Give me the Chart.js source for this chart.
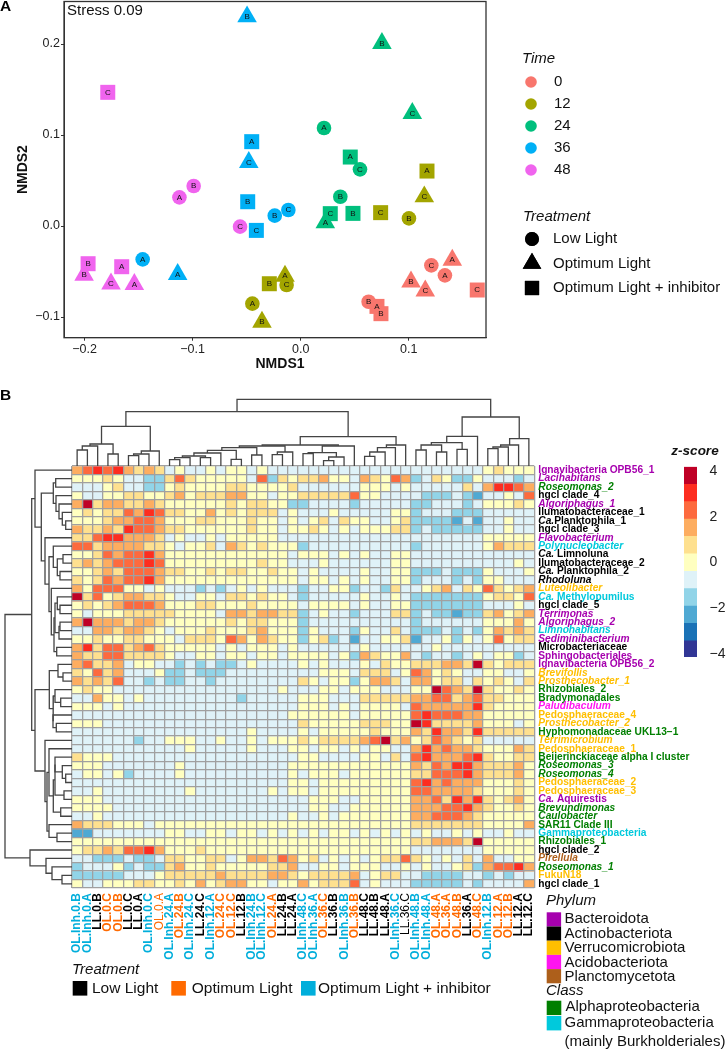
<!DOCTYPE html>
<html>
<head>
<meta charset="utf-8">
<title>NMDS and heatmap</title>
<script src="https://cdn.jsdelivr.net/npm/chart.js@4/dist/chart.umd.min.js"></script>
<style>
  html, body { margin: 0; padding: 0; background: #fff; }
  #page { position: relative; width: 728px; height: 1050px; overflow: hidden; }
  canvas { position: absolute; }
</style>
</head>
<body>
<div id="page">
  <canvas id="nmds" style="left:0;top:-20px"></canvas>
  <canvas id="heat" style="left:0;top:390px"></canvas>
  <canvas id="colTree" style="left:72px;top:395px"></canvas>
  <canvas id="rowTree" style="left:0;top:466px"></canvas>
  <canvas id="zbar" style="left:660px;top:440px"></canvas>
</div>
<script>
// === PANEL A DATA ===
const nmds1 = [0.1209,0.1335,0.0629,0.1403,0.1021,0.1153,0.0706,0.0743,0.1634,
  -0.0447,0.1002,-0.0130,-0.0145,-0.0358,0.1144,0.1169,-0.0290,0.0740,
  0.0216,0.0367,0.0549,0.0228,0.0752,0.1033,0.0459,0.0484,0.0274,
  -0.1462,-0.0240,-0.0114,-0.1138,-0.0496,-0.0480,-0.0453,-0.0490,-0.0410,
  -0.1122,-0.0990,-0.0561,-0.1539,-0.2004,-0.1755,-0.1656,-0.1967,-0.1785];
const nmds2 = [-0.0432,-0.0542,-0.0832,-0.0374,-0.0612,-0.0711,-0.0883,-0.0963,-0.0703,
  -0.0853,0.0084,-0.0648,-0.0549,-0.1055,0.0322,0.0604,-0.0634,0.0147,
  0.1077,0.0322,0.0623,0.0037,0.2007,0.1238,0.0758,0.0139,0.0136,
  -0.0366,0.0114,0.0176,-0.0531,0.2300,0.0700,0.0927,0.0267,-0.0048,
  0.0315,0.0440,-0.0007,-0.0641,-0.0538,-0.0634,-0.0447,-0.0414,0.1469];
const sampleRep = ['C','A','B','A','B','C','A','B','C',
  'A','B','C','A','B','C','A','B','C',
  'A','B','C','A','B','C','A','B','C',
  'A','B','C','A','B','C','A','B','C',
  'A','B','C','A','B','C','A','B','C'];
const timeLevels = ['0','12','24','36','48'];
const treatLevels = ['Low Light','Optimum Light','Optimum Light + inhibitor'];
const xTicksA = [-0.2,-0.1,0,0.1];
const yTicksA = [-0.1,0,0.1,0.2];

// === PANEL B DATA ===
const colNames = ['OL.Inh.0.B','OL.Inh.0.A','LL.0.B','OL.0.C','OL.0.B','LL.0.C','LL.0.A','OL.Inh.0.C','OL.0.A',
  'OL.Inh.24.A','OL.24.B','OL.Inh.24.C','LL.24.C','OL.Inh.12.A','OL.24.C','OL.12.C','LL.12.B','OL.Inh.24.B',
  'OL.Inh.12.C','OL.24.A','LL.24.B','LL.24.A','OL.Inh.48.C','OL.Inh.36.A','OL.36.C','LL.36.B','OL.Inh.36.B',
  'OL.36.B','LL.48.C','LL.48.B','LL.48.A','OL.Inh.36.C','LL.36.C','OL.Inh.48.B','OL.Inh.48.A','OL.48.A',
  'OL.36.A','OL.48.B','LL.36.A','OL.48.C','OL.Inh.12.B','OL.12.A','OL.12.B','LL.12.A','LL.12.C'];
const rowNames = ['Ignavibacteria OPB56_1','Lacihabitans','Roseomonas_2','hgcl clade_4','Algoriphagus_1',
  'Ilumatobacteraceae_1','Ca.Planktophila_1','hgcl clade_3','Flavobacterium','Polynucleobacter',
  'Ca. Limnoluna','Ilumatobacteraceae_2','Ca. Planktophila_2','Rhodoluna','Luteolibacter',
  'Ca. Methylopumilus','hgcl clade_5','Terrimonas','Algoriphagus_2','Limnohabitans',
  'Sediminibacterium','Microbacteriaceae','Sphingobacteriales','Ignavibacteria OPB56_2','Brevifollis',
  'Prosthecobacter_1','Rhizobiales_2','Bradymonadales','Paludibaculum','Pedosphaeraceae_4',
  'Prosthecobacter_2','Hyphomonadaceae UKL13\u22121','Terrimicrobium','Pedosphaeraceae_1','Beijerinckiaceae alpha I cluster',
  'Roseomonas_3','Roseomonas_4','Pedosphaeraceae_2','Pedosphaeraceae_3','Ca. Aquirestis',
  'Brevundimonas','Caulobacter','SAR11 Clade III','Gammaproteobacteria','Rhizobiales_1',
  'hgcl clade_2','Pirellula','Roseomonas_1','FukuN18','hgcl clade_1'];
const rowPhylum = ['Bac','Bac','Alp','Act','Bac','Act','Act','Act','Bac','Gam',
  'Act','Act','Act','Act','Ver','Gam','Act','Bac','Bac','Gam',
  'Bac','Act','Bac','Bac','Ver','Ver','Alp','Alp','Aci','Ver',
  'Ver','Alp','Ver','Ver','Alp','Alp','Alp','Ver','Ver','Bac',
  'Alp','Alp','Alp','Gam','Alp','Act','Pla','Alp','Ver','Act'];
const italicRows = ['Lacihabitans','Roseomonas_2','Algoriphagus_1','Flavobacterium','Polynucleobacter','Rhodoluna',
  'Luteolibacter','Terrimonas','Algoriphagus_2','Limnohabitans','Sediminibacterium','Brevifollis','Prosthecobacter_1',
  'Paludibaculum','Prosthecobacter_2','Terrimicrobium','Roseomonas_3','Roseomonas_4','Brevundimonas','Caulobacter',
  'Pirellula','Roseomonas_1'];

// z-score per cell as colour bar bin (one bin is about 0.76 z), rows top to bottom
const heatBins = [
  [2,3,4,3,4,2,1,2,1,-1,0,-1,-1,0,-1,0,0,-1,0,-1,-1,-1,-1,-1,-1,-1,-1,-1,-1,-1,-1,-1,-1,-1,-1,-1,-1,-1,-1,-1,0,1,0,0,0],
  [0,0,0,1,0,-1,-1,-2,-2,1,3,1,0,0,0,0,0,-1,3,-2,1,0,1,1,2,0,0,-1,2,1,0,3,2,-2,-1,1,0,-2,-2,0,-1,-1,-1,-2,-1],
  [-1,-1,-1,0,1,-1,-1,-2,-2,0,1,0,0,0,0,1,1,0,0,0,0,1,-1,-1,-1,-1,-1,-1,0,0,0,-1,0,-1,-1,-1,-1,-1,1,-1,2,4,4,3,2],
  [0,-1,-1,0,0,1,1,0,0,1,2,0,1,1,1,2,2,0,0,-1,0,0,1,1,1,1,1,3,0,0,-1,-1,-1,-1,-2,-2,-2,-1,-2,-3,-1,-1,0,-1,3],
  [2,5,1,2,2,1,1,2,1,0,0,0,0,0,0,1,0,1,1,0,0,-2,-2,-1,-1,-1,-1,-2,-1,-1,-1,-1,-1,-2,-2,-1,-1,-1,-2,-1,0,0,0,1,0],
  [0,1,0,1,1,3,2,4,3,1,1,0,0,2,0,1,0,1,1,1,-1,0,-1,-1,-1,0,-1,-1,-1,-1,-1,0,0,-2,-1,-1,-1,-2,-2,-2,-1,-1,-1,-1,-1],
  [0,0,0,1,2,2,3,3,2,0,0,0,1,1,0,0,0,1,0,0,-1,0,-1,0,1,-1,1,0,0,-1,-1,0,1,-2,-2,-2,-2,-3,-1,-3,-1,-1,0,-1,-1],
  [2,1,1,2,1,4,3,3,2,1,1,0,0,0,0,0,0,1,0,0,-1,0,0,1,0,-1,0,-1,0,0,0,1,1,-2,-1,-2,-2,-2,-2,-2,-1,-1,0,-1,-1],
  [1,1,3,4,4,2,2,2,1,-1,0,-1,-1,0,-1,0,0,0,0,0,-1,-1,-1,-1,-1,-1,-1,-1,-1,-1,-1,-1,-1,-1,-1,-1,-1,-1,-1,-1,0,0,0,0,0],
  [3,3,1,2,2,2,2,1,1,0,-1,0,0,1,-1,2,1,0,1,0,0,0,-2,-1,-1,-1,-1,-1,-1,-1,-1,-1,-1,-2,-1,-1,-1,-1,-1,-1,0,2,1,1,1],
  [0,0,1,3,2,3,3,4,2,0,0,0,0,0,0,0,0,0,0,0,0,-1,0,0,0,-1,0,-1,0,-1,-1,0,0,-1,-1,-1,-1,-1,-1,-1,-1,-1,-1,-1,-1],
  [1,2,1,2,3,3,3,4,3,0,0,0,0,0,0,0,0,0,1,0,0,-1,-1,-1,0,-1,-1,-1,-1,-1,-1,0,0,-1,-1,-1,-1,-1,-1,-1,-1,-1,-1,0,-1],
  [0,0,1,2,1,3,3,3,2,1,1,0,0,1,0,1,1,0,0,1,0,0,-1,0,-1,-1,-1,-1,0,-1,-1,0,0,-2,-2,-2,-1,-2,-2,-2,0,-1,-1,-1,0],
  [1,0,1,3,2,3,3,4,2,0,0,0,0,0,0,0,0,0,0,0,0,0,-1,0,0,-1,0,-1,0,-1,-1,0,0,-2,-1,-1,-1,-2,-1,-2,0,0,-1,-1,-1],
  [2,0,3,3,3,0,0,-1,0,-1,-1,-1,-2,-1,-2,-1,0,-1,0,-1,-1,-1,-2,-1,-1,0,0,-2,-1,-1,-2,1,-1,-1,0,1,2,-1,1,0,3,1,0,1,2],
  [5,1,3,0,1,2,2,1,1,0,-1,-1,0,0,-1,1,1,0,1,0,0,-1,-2,-1,-1,-1,-1,-1,0,-1,-1,0,-1,-2,-2,-2,-2,-2,-2,-2,0,1,1,0,3],
  [0,1,0,1,2,3,3,3,2,0,0,0,1,1,0,0,0,1,0,0,0,0,-1,0,0,0,0,-1,0,-1,-1,0,0,-2,-2,-2,-2,-2,-2,-2,-1,-1,-1,0,-1],
  [0,-1,0,0,0,1,1,1,1,1,0,0,0,0,-1,2,2,1,2,2,1,1,-2,-1,0,-1,-1,-2,-1,-1,-1,1,1,-2,-1,-2,-2,-3,-2,-2,1,2,0,1,2],
  [2,5,2,2,2,1,2,2,1,0,0,0,0,0,0,1,0,1,1,0,0,0,-2,-1,-1,-1,-1,-1,-1,-1,-1,-1,-1,-2,-1,-1,-1,-1,-1,-1,0,0,0,2,0],
  [-1,-1,2,2,1,2,2,1,0,-1,0,0,0,1,0,0,0,1,2,0,0,0,-2,0,-1,-1,-1,-2,0,-1,-1,1,-1,-2,-2,-2,-1,-2,-1,-2,0,2,1,2,1],
  [0,0,1,0,0,1,1,0,0,0,-1,1,1,1,0,3,2,0,2,1,0,0,-2,0,1,-2,-1,-3,-1,-1,0,0,1,-3,-1,-1,0,-2,0,-1,0,3,0,1,1],
  [2,4,1,3,3,1,2,3,1,0,0,0,0,0,-1,0,-1,0,0,0,-1,0,-1,-1,-1,-1,-1,-1,0,-1,-1,-1,-1,-1,-1,0,-1,-1,-1,-1,-1,-1,-1,-1,-1],
  [2,1,1,3,3,1,1,1,1,0,-1,-1,0,0,-1,0,0,-1,0,0,-1,0,0,0,0,-1,0,-2,2,1,0,0,2,-1,-2,-1,-1,-2,-1,0,-1,0,0,-2,-1],
  [2,3,1,1,2,-1,0,0,-1,-1,-2,-1,-2,-1,-2,-2,-1,0,-1,-1,-1,-1,0,-1,0,-1,-1,-1,0,-1,1,0,0,1,1,1,2,2,1,5,1,0,1,1,1],
  [1,0,3,1,2,-1,-1,-1,0,-2,-2,-1,-2,-2,-2,-1,-1,-1,-1,-1,-1,-1,-1,-1,0,0,0,-1,1,1,1,-1,0,3,2,0,1,0,-1,-1,0,0,-1,-1,0],
  [2,1,2,1,3,-1,-1,-2,-1,-2,-2,-1,-1,-2,-1,-1,-1,-1,-1,-1,-1,-1,1,0,-1,0,0,-2,0,2,2,1,-1,2,2,0,1,1,-1,1,0,1,0,-1,1],
  [0,1,0,0,-1,-1,-1,-1,-1,-1,-1,-1,-1,-1,-1,-1,-1,-1,-1,-1,0,-1,-1,-1,0,0,-1,0,0,0,-1,-1,-1,0,0,5,3,2,1,5,1,0,0,1,0],
  [-1,-1,2,0,0,-1,0,-1,-1,-1,-1,-1,-1,-1,-1,-1,-2,-1,-1,-1,-1,-1,0,0,0,-1,-1,-1,1,1,1,1,1,2,2,3,3,1,2,3,1,1,0,0,0],
  [0,0,0,-1,0,-1,-1,-1,-1,-1,-1,-1,-1,-1,-1,-1,-1,-1,-1,-1,-1,-1,0,0,0,-1,0,-1,0,0,0,0,-1,3,2,2,2,2,2,4,1,0,0,0,0],
  [-1,-1,-1,-1,-1,-1,-1,-1,-1,-1,-1,-1,-1,-1,-1,-1,-1,-1,-1,-1,-1,0,0,0,0,0,0,-1,0,0,0,0,0,3,4,3,3,3,2,2,0,0,0,0,0],
  [0,0,0,-1,-1,-1,-1,-1,-1,-1,-1,-1,-1,-1,-1,-1,-1,-1,-1,-1,-1,-1,1,0,0,0,0,0,1,1,1,0,0,5,4,1,1,1,1,2,0,0,0,-1,0],
  [-1,-1,-1,-1,-1,-1,-1,-1,-1,-1,-1,-1,-1,-1,-1,-1,-1,0,-1,-1,-1,-1,0,-1,0,0,0,0,0,1,0,0,0,2,1,4,2,2,1,4,1,1,1,1,1],
  [-1,-1,-1,-1,-1,-1,-2,-1,-1,0,0,0,-1,-1,0,-1,-1,0,-1,0,0,0,1,0,1,1,1,1,2,3,5,1,2,0,1,3,2,1,0,1,-1,-1,-1,-1,-1],
  [-1,-1,-1,-1,-1,-1,-1,-1,-1,-1,-1,0,-1,-1,-1,-1,-1,0,-1,-1,-1,0,0,-1,0,0,-1,0,-1,0,0,-1,-1,2,4,2,3,2,2,1,0,0,0,2,1],
  [1,0,0,0,-1,-1,-1,-1,-1,-1,-1,-1,-1,-1,-1,-1,-1,-1,-1,-1,-1,-1,0,0,-1,-1,-1,-1,0,0,-1,1,-1,3,4,2,2,2,3,4,1,0,0,1,1],
  [0,0,0,-1,-1,-1,-1,-1,-1,-1,0,-1,-1,-1,-1,-1,-1,-1,-1,-1,-1,0,0,0,0,0,0,0,0,0,0,0,0,2,1,3,2,4,4,2,1,1,1,2,0],
  [-1,0,0,-1,0,-2,-1,-1,-1,-1,0,-1,-1,-1,-1,-1,-1,-1,-1,-1,-1,0,-1,0,0,0,-1,0,0,0,0,0,0,1,1,3,3,3,4,2,1,1,1,2,0],
  [-1,-1,-1,-1,-1,-1,-1,-1,-1,-1,-1,-1,-1,-1,-1,-1,-1,-1,-1,-1,-1,0,0,-1,0,0,0,0,0,0,0,0,0,3,4,2,3,2,2,2,0,0,0,1,0],
  [-1,-1,0,-1,-1,-1,-1,-1,-1,-1,-1,0,-1,-1,-1,-1,-1,-1,-1,0,-1,0,0,-1,0,0,0,0,0,0,0,0,0,3,3,2,2,2,2,1,0,0,0,1,0],
  [0,0,0,-1,-1,-1,-1,-1,-1,-1,-1,-1,-1,-1,-1,-1,-1,-1,-1,-1,-1,-1,-1,0,0,0,-1,-1,0,0,0,0,0,2,2,3,1,4,2,4,1,0,1,2,0],
  [0,0,0,0,-1,-1,-1,-1,-1,-1,-1,-1,-1,-1,-1,-1,-1,-1,-1,-1,-1,-1,-1,0,0,-1,-1,0,0,0,0,0,0,2,2,2,3,3,4,2,1,0,0,1,0],
  [-1,-1,0,-1,-1,-1,-1,-1,-1,-1,-1,-1,-1,-1,-1,-1,-1,-1,-1,-1,-1,0,-1,-1,0,-1,0,0,0,0,0,0,0,2,2,3,3,3,2,1,0,0,0,0,0],
  [2,1,1,1,0,0,0,-1,0,0,0,0,0,0,0,0,0,0,0,0,0,0,0,0,0,0,0,0,0,0,0,0,0,1,1,1,1,1,1,1,0,0,0,0,2],
  [-3,-3,-1,-1,-1,-1,-1,-1,-1,0,0,-1,-1,0,0,-1,0,0,-1,0,-1,0,-1,0,-1,0,0,-1,0,-1,0,-1,0,-1,0,-1,-1,0,-1,0,-1,-1,0,-1,-1],
  [0,0,0,0,0,0,0,0,0,0,0,0,0,0,0,0,0,0,0,0,0,0,0,0,0,0,0,0,0,0,0,0,0,1,1,2,2,2,1,5,0,0,0,0,0],
  [0,1,1,2,1,3,3,4,2,0,0,0,1,0,0,0,0,0,0,0,0,0,0,0,0,0,0,0,0,0,0,0,0,-1,-1,-1,-1,-1,-1,-1,0,0,0,0,0],
  [-1,-1,-2,-2,-2,-1,-2,-2,-1,1,1,0,0,1,1,-1,0,2,2,1,3,2,0,1,-1,0,-1,0,-1,0,1,1,3,1,0,-1,0,-1,1,-1,2,-1,-1,0,0],
  [-2,-1,-1,-1,0,-2,-1,-2,-2,1,2,0,0,1,0,0,0,0,0,1,1,2,-1,-1,0,0,-1,0,0,0,-1,-1,0,-1,0,-1,-1,0,1,-2,2,3,3,4,2],
  [-2,-2,-2,-2,-2,-1,-1,-1,0,1,1,1,1,1,2,1,1,1,1,2,2,1,0,1,1,1,1,2,-1,0,1,1,-1,-1,-2,-2,-2,-2,-1,-1,-2,-1,-2,-1,-1],
  [0,-1,-1,0,0,0,1,1,0,0,1,0,2,0,1,2,2,0,0,-1,0,0,2,0,1,1,1,3,-1,0,-1,-1,-1,-2,-2,-2,-2,-2,-1,-2,-1,-1,-1,-1,2]
];
const zBins = [-5,-4,-3,-2,-1,0,1,2,3,4,5];
const zBinWidth = 0.76;
const zTicks = [-4,-2,0,2,4];

// dendrograms: [height, left, right], a plain number is a leaf (1 based)
const colTree = [66.7,
  [54.3,
    [39.7,
      [22, [20, [16, 1, 2], 3], [12, 4, 5]],
      [15, [12, [10.3, 6, 7], 8], 9]],
    [29.3,
      [21,
        [20,
          [18.3,
            [15.7, [13, [10, [8.3, [6.3, 10, 11], 12], [8.3, 13, 14]], 15], [6.7, 16, 17]],
            [11, 18, 19]],
          [14, [11.3, 20, 21], 22]],
        [20, [13.3, [12.3, 23, 24], [9, [5.3, 25, 26], 27]], 28]],
      [21, [18.3, [14, [9.7, 29, 30], 31], 32], 33]]],
  [49,
    [29.7, [23.3, [21, [16, 34, 35], [14, 36, 37]], [16.7, 38, 39]], 40],
    [27.3, [21, [19, [17.3, 41, 42], 43], 44], 45]]];
const rowTree = [67,
  [40.3,
    [37, 1,
      [30.7,
        [18.7, [16.3, 2, 3], [16, 4, [13, 5, [9.7, 6, [6.3, 7, 8]]]]],
        [27, 9,
          [23,
            [18.7, 10, [14.7, [9, 11, 12], [12, 13, 14]]],
            [20.7, 15, [18, [17, [14.7, 16, [12, 17, 18]], [13, [12, 19, 20], 21]], [15.3, 22, 23]]]]]]],
    [37,
      [22.7,
        [14, 24, [9, 25, 26]],
        [18.7, [17, 27, [11.3, 28, 29]], [19, 30, [15.7, 31, 32]]]],
      [27, 33,
        [25,
          [23, 34,
            [18.7,
              [17, [17, 35, [9.7, 36, [6.3, 37, 38]]], [8, 39, 40]],
              [11.3, 41, 42]]],
          [23, 43, [15, 44, 45]]]]]],
  [42, 46, [26, 47, [20, 48, [10, 49, 50]]]]];

// colours
const timeColors = ['#F8766D','#A3A500','#00BF7D','#00B0F6','#F064EE'];
const treatStyles = ['circle','triangle','rect'];
const treatRadius = [7.3,11.3,10.6];
const heatColors = {'-5':'#313695','-4':'#1a72b6','-3':'#4fa9d3','-2':'#91d4e8','-1':'#dff2f8',
  '0':'#ffffc0','1':'#fee08f','2':'#fdad60','3':'#fd6a3e','4':'#fd2d20','5':'#bf0026'};
const phylumColors = {Bac:'#A600AE',Act:'#000000',Ver:'#FFBF00',Aci:'#FF14F0',Pla:'#AD5F1B',Alp:'#007F00',Gam:'#00C9DC'};
const treatColColors = {inh:'#00AEDB',ol:'#FF6A00',ll:'#000000'};

Chart.defaults.font.family = '"Liberation Sans", Arial, sans-serif';
Chart.defaults.animation = false;
Chart.defaults.responsive = false;
Chart.defaults.plugins.legend.display = false;
Chart.defaults.plugins.tooltip.enabled = false;

const sansFont = '"Liberation Sans", Arial, sans-serif';
function putText(ctx, str, x, y, font, color, align) {
  ctx.save();
  ctx.font = font + ' ' + sansFont;
  ctx.fillStyle = color || '#000';
  ctx.textAlign = align || 'left';
  ctx.textBaseline = 'middle';
  ctx.fillText(str, x, y);
  ctx.restore();
}
function sizeCanvas(id, w, h) {
  const c = document.getElementById(id);
  c.width = w; c.height = h;
  c.style.width = w + 'px'; c.style.height = h + 'px';
  return c;
}
function minusLabel(v, digits) {
  return v.toFixed(digits).replace('-', '\u2212');
}

// === PANEL A ===
const nmdsDatasets = [];
timeLevels.forEach((t, ti) => {
  treatLevels.forEach((tr, si) => {
    // samples go time by time, and in each time low light, optimum, inhibitor, 3 each
    const start = ti * 9 + si * 3;
    const pts = [0, 1, 2].map(k => ({ x: nmds1[start + k], y: nmds2[start + k], rep: sampleRep[start + k] }));
    nmdsDatasets.push({
      label: t + ' ' + tr, data: pts, pointStyle: treatStyles[si], pointRadius: treatRadius[si],
      backgroundColor: timeColors[ti], borderWidth: 0, clip: false
    });
  });
});

// canvas sits 20px above the page so the axis labels have room, hence the offset
const nmdsTop = 20;
const nmdsDecor = {
  id: 'nmdsDecor',
  afterDatasetsDraw(chart) {
    const ctx = chart.ctx, a = chart.chartArea;
    // replicate letters on the points
    chart.data.datasets.forEach((ds, i) => {
      chart.getDatasetMeta(i).data.forEach((el, j) => {
        putText(ctx, ds.data[j].rep, el.x, el.y, '8px', '#111', 'center');
      });
    });
    ctx.save();
    ctx.strokeStyle = '#333';
    ctx.lineWidth = 1.3;
    ctx.strokeRect(a.left, a.top, a.right - a.left, a.bottom - a.top);
    ctx.restore();
    putText(ctx, 'Stress 0.09', 67, 11 + nmdsTop, '15px', '#111');
    putText(ctx, 'A', 0, 7 + nmdsTop, 'bold 15.5px', '#000');
    putText(ctx, 'NMDS1', 280, 364 + nmdsTop, 'bold 14px', '#111', 'center');
    // Time legend
    putText(ctx, 'Time', 522, 59 + nmdsTop, 'italic 15px', '#111');
    timeLevels.forEach((t, i) => {
      const y = 82 + i * 22 + nmdsTop;
      ctx.fillStyle = timeColors[i];
      ctx.beginPath(); ctx.arc(531, y, 5.8, 0, Math.PI * 2); ctx.fill();
      putText(ctx, t, 554, y, '15px', '#111');
    });
    // Treatment legend
    putText(ctx, 'Treatment', 523, 217 + nmdsTop, 'italic 15px', '#111');
    treatLevels.forEach((t, i) => {
      const y = 239 + i * 24.5 + nmdsTop;
      ctx.fillStyle = '#000';
      Chart.helpers.drawPoint(ctx, { pointStyle: treatStyles[i], radius: treatRadius[i] * 0.95, rotation: 0, borderWidth: 0 }, 532, y);
      ctx.fill();
      putText(ctx, t, 553, y, '15px', '#111');
    });
  }
};

new Chart(sizeCanvas('nmds', 728, 405), {
  type: 'scatter',
  data: { datasets: nmdsDatasets },
  options: {
    layout: { padding: { top: 1.5 + nmdsTop, right: 242, left: 0, bottom: 0 } },
    scales: {
      x: {
        min: -0.219, max: 0.1715,
        afterBuildTicks: s => { s.ticks = xTicksA.map(v => ({ value: v })); },
        afterFit: s => { s.height = 385 - 337.7; },
        grid: { drawOnChartArea: false, color: '#333', tickLength: 3 },
        border: { color: '#333' },
        ticks: { padding: 1, color: '#222', font: { size: 12.5 }, maxRotation: 0, callback: v => minusLabel(v, 1) }
      },
      y: {
        min: -0.1227, max: 0.2467,
        afterBuildTicks: s => { s.ticks = yTicksA.map(v => ({ value: v })); },
        afterFit: s => { s.width = 64; },
        grid: { drawOnChartArea: false, color: '#333', tickLength: 3 },
        border: { color: '#333' },
        ticks: { padding: 1, color: '#222', font: { size: 12.5 }, callback: v => minusLabel(v, 1) },
        title: { display: true, text: 'NMDS2', color: '#111', font: { size: 14, weight: 'bold' }, padding: { top: 15, bottom: 0 } }
      }
    }
  },
  plugins: [nmdsDecor]
});

// === PANEL B heatmap ===
function colColor(name) {
  if (name.startsWith('OL.Inh')) return treatColColors.inh;
  return name.startsWith('OL') ? treatColColors.ol : treatColColors.ll;
}
const heatDatasets = heatBins.map((row, r) => ({
  label: rowNames[r],
  data: row.map(() => [r, r + 1]),
  backgroundColor: row.map(b => heatColors[b]),
  borderWidth: 0, barPercentage: 1, categoryPercentage: 1, grouped: false
}));

const heatDecor = {
  id: 'heatDecor',
  afterDraw(chart) {
    const ctx = chart.ctx, yS = chart.scales.y, off = 390;
    // row labels, the Ca. prefix stays italic
    rowNames.forEach((name, r) => {
      const y = yS.getPixelForValue(r + 0.5), color = phylumColors[rowPhylum[r]];
      const style = italicRows.includes(name) ? 'italic bold 10.2px' : 'bold 10.2px';
      if (name.startsWith('Ca.')) {
        putText(ctx, 'Ca.', 538.3, y, 'italic bold 10.2px', color);
        ctx.font = 'italic bold 10.2px ' + sansFont;
        const w = ctx.measureText('Ca.').width;
        putText(ctx, name.slice(3), 538.3 + w, y, 'bold 10.2px', color);
      } else {
        putText(ctx, name, 538.3, y, style, color);
      }
    });
    putText(ctx, 'B', 0, 396 - off, 'bold 15.5px', '#000');
    // Treatment legend under the columns
    putText(ctx, 'Treatment', 72, 970 - off, 'italic 15px', '#111');
    [['Low Light', treatColColors.ll, 72.7, 92], ['Optimum Light', treatColColors.ol, 171.3, 191.7],
     ['Optimum Light + inhibitor', treatColColors.inh, 301, 318]].forEach(([t, c, sx, tx]) => {
      ctx.fillStyle = c;
      ctx.fillRect(sx, 981 - off, 14.6, 14.6);
      putText(ctx, t, tx, 988.5 - off, '15.5px', '#111');
    });
    // Phylum and class legend
    putText(ctx, 'Phylum', 546, 900.7 - off, 'italic 15px', '#111');
    [['Bacteroidota', 'Bac'], ['Actinobacteriota', 'Act'], ['Verrucomicrobiota', 'Ver'],
     ['Acidobacteriota', 'Aci'], ['Planctomycetota', 'Pla']].forEach(([t, k], i) => {
      ctx.fillStyle = phylumColors[k];
      ctx.fillRect(546.7, 912.3 + i * 14.2 - off, 14.4, 14.2);
      putText(ctx, t, 564.5, 919.3 + i * 14.4 - off, '15px', '#111');
    });
    putText(ctx, 'Class', 546, 991 - off, 'italic 15px', '#111');
    ctx.fillStyle = phylumColors.Alp; ctx.fillRect(546.7, 1000.7 - off, 14.6, 14.4);
    ctx.fillStyle = phylumColors.Gam; ctx.fillRect(546.7, 1016 - off, 14.6, 14.4);
    putText(ctx, 'Alphaproteobacteria', 565.5, 1006.7 - off, '15px', '#111');
    putText(ctx, 'Gammaproteobacteria', 564.5, 1022.7 - off, '15px', '#111');
    putText(ctx, '(mainly Burkholderiales)', 564.5, 1041.7 - off, '15px', '#111');
  }
};

new Chart(sizeCanvas('heat', 728, 660), {
  type: 'bar',
  data: { labels: colNames, datasets: heatDatasets },
  options: {
    layout: { padding: { top: 76, left: 72, right: 193.7, bottom: 0 } },
    scales: {
      x: {
        afterFit: s => { s.height = 660 - (888 - 390); },
        grid: { offset: true, color: '#a0a0a0', lineWidth: 1.3, z: 1, drawTicks: false },
        border: { display: false },
        ticks: {
          autoSkip: false, minRotation: 90, maxRotation: 90, padding: 5,
          color: ctx => colColor(colNames[ctx.index]),
          font: ctx => ({ size: 12, weight: ['OL.0.A', 'LL.36.C'].includes(colNames[ctx.index]) ? 'normal' : 'bold' })
        }
      },
      y: {
        min: 0, max: 50, reverse: true,
        afterFit: s => { s.width = 0; },
        grid: { color: '#a0a0a0', lineWidth: 1.3, z: 1, drawTicks: false },
        border: { display: false },
        ticks: { display: false, stepSize: 1, autoSkip: false, maxTicksLimit: 60 }
      }
    }
  },
  plugins: [heatDecor]
});

// dendrograms, one dataset per merge
function treeSegments(node, out) {
  if (typeof node === 'number') return { pos: node - 0.5, h: 0 };
  const l = treeSegments(node[1], out), r = treeSegments(node[2], out), h = node[0];
  out.push([[l.pos, l.h], [l.pos, h], [r.pos, h], [r.pos, r.h]]);
  return { pos: (l.pos + r.pos) / 2, h };
}
function treeDatasets(tree, horizontal) {
  const segs = [];
  treeSegments(tree, segs);
  return segs.map(s => ({
    data: s.map(p => horizontal ? { x: p[1], y: p[0] } : { x: p[0], y: p[1] }),
    showLine: true, pointRadius: 0, borderColor: '#444', borderWidth: 1.3, tension: 0, clip: false
  }));
}
new Chart(sizeCanvas('colTree', 462, 71), {
  type: 'scatter',
  data: { datasets: treeDatasets(colTree, false) },
  options: { scales: { x: { display: false, min: 0, max: 45 }, y: { display: false, min: 0, max: 71 } } }
});
new Chart(sizeCanvas('rowTree', 72, 422), {
  type: 'scatter',
  data: { datasets: treeDatasets(rowTree, true) },
  options: { scales: { x: { display: false, min: 0, max: 72, reverse: true }, y: { display: false, min: 0, max: 50, reverse: true } } }
});

// colour bar
const zbarDecor = {
  id: 'zbarDecor',
  afterDraw(chart) { putText(chart.ctx, 'z-score', 35, 11, 'italic bold 13.5px', '#111', 'center'); }
};
new Chart(sizeCanvas('zbar', 68, 230), {
  type: 'bar',
  data: {
    labels: ['z'],
    datasets: zBins.map(b => ({
      data: [[(b - 0.5) * zBinWidth, (b + 0.5) * zBinWidth]],
      backgroundColor: heatColors[b], borderWidth: 0, barPercentage: 1, categoryPercentage: 1, grouped: false
    }))
  },
  options: {
    layout: { padding: { top: 26.7, left: 24, right: 0, bottom: 12 } },
    scales: {
      x: { display: false },
      y: {
        position: 'right', min: -4.13, max: 4.187,
        afterBuildTicks: s => { s.ticks = zTicks.map(v => ({ value: v })); },
        afterFit: s => { s.width = 31; },
        grid: { display: false },
        border: { display: false },
        ticks: { padding: 4.5, color: '#222', font: { size: 14 }, callback: v => minusLabel(v, 0) }
      }
    }
  },
  plugins: [zbarDecor]
});
</script>
</body>
</html>
